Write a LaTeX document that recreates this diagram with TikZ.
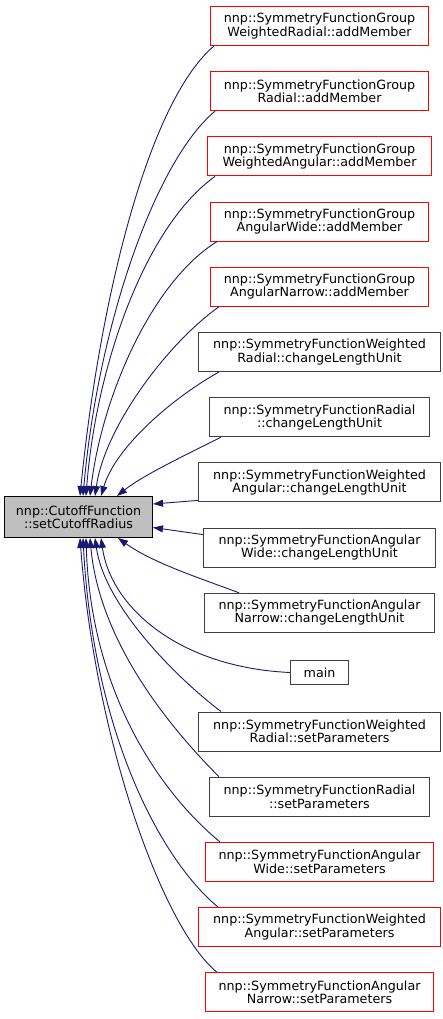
\documentclass[tikz,border=0pt]{standalone}
\usepackage{fontspec}
\setmainfont{DejaVu Sans}
\usepackage{xcolor}
\usepackage{tikz}
\usetikzlibrary{shapes.geometric, arrows.meta, positioning, calc}

\definecolor{edgeblue}{HTML}{191970}
\definecolor{boxgrey}{HTML}{404040}
\definecolor{fillgrey}{HTML}{BFBFBF}
\definecolor{truncred}{HTML}{FF0000}

\begin{document}
\begin{tikzpicture}[x=1pt, y=-1pt, node distance=25.2pt,
    fnbox/.style={rectangle, draw=boxgrey, fill=white, line width=1pt, align=center, minimum height=39pt, minimum width=#1, inner xsep=10pt, inner ysep=2pt, font=\fontsize{12.7}{13.3}\selectfont},
    fnbox/.default=20pt,
    trunc/.style={fnbox=#1, draw=truncred},
    trunc/.default=20pt,
    current/.style={fnbox=148pt, fill=fillgrey, draw=black, minimum height=41pt},
    call/.style={draw=edgeblue, line width=0.9pt, -{Triangle[length=10pt, width=7pt]}}
]
    \useasboundingbox (0,0) rectangle (443,1019);

    \node [current] (cutoff) at (78.5,517) {nnp::CutoffFunction\\::setCutoffRadius};

    \node [trunc=218pt] (wradadd) at (319.5,26) {nnp::SymmetryFunctionGroup\\WeightedRadial::addMember};
    \node [trunc=218pt, below=of wradadd] (radadd) {nnp::SymmetryFunctionGroup\\Radial::addMember};
    \node [trunc=224pt, below=of radadd] (wangadd) {nnp::SymmetryFunctionGroup\\WeightedAngular::addMember};
    \node [trunc=218pt, below=of wangadd] (wideadd) {nnp::SymmetryFunctionGroup\\AngularWide::addMember};
    \node [trunc=218pt, below=of wideadd] (narrowadd) {nnp::SymmetryFunctionGroup\\AngularNarrow::addMember};
    \node [fnbox=242pt, below=of narrowadd] (wradlen) {nnp::SymmetryFunctionWeighted\\Radial::changeLengthUnit};
    \node [fnbox=220pt, below=of wradlen] (radlen) {nnp::SymmetryFunctionRadial\\::changeLengthUnit};
    \node [fnbox=242pt, below=of radlen] (wanglen) {nnp::SymmetryFunctionWeighted\\Angular::changeLengthUnit};
    \node [fnbox=232pt, below=of wanglen] (widelen) {nnp::SymmetryFunctionAngular\\Wide::changeLengthUnit};
    \node [fnbox=230pt, below=of widelen] (narrowlen) {nnp::SymmetryFunctionAngular\\Narrow::changeLengthUnit};
    \node [fnbox=58pt, below=27.2pt of narrowlen, minimum height=24pt] (mainfn) {main};
    \node [fnbox=242pt, below=26.5pt of mainfn] (wradpar) {nnp::SymmetryFunctionWeighted\\Radial::setParameters};
    \node [fnbox=220pt, below=of wradpar] (radpar) {nnp::SymmetryFunctionRadial\\::setParameters};
    \node [trunc=228pt, below=of radpar] (widepar) {nnp::SymmetryFunctionAngular\\Wide::setParameters};
    \node [trunc=242pt, below=of widepar] (wangpar) {nnp::SymmetryFunctionWeighted\\Angular::setParameters};
    \node [trunc=228pt, below=of wangpar] (narrowpar) {nnp::SymmetryFunctionAngular\\Narrow::setParameters};

    % callers above
    \path [call] ([xshift=4pt]wradadd.south west) .. controls +(-65,55) and +(20,-200) .. ([xshift=76pt]cutoff.north west);
    \path [call] ([xshift=5pt]radadd.south west) .. controls +(-60,50) and +(15,-170) .. ([xshift=79pt]cutoff.north west);
    \path [call] ([xshift=8pt]wangadd.south west) .. controls +(-70,50) and +(10,-130) .. ([xshift=82pt]cutoff.north west);
    \path [call] ([xshift=7pt]wideadd.south west) .. controls +(-65,40) and +(12,-100) .. ([xshift=86pt]cutoff.north west);
    \path [call] ([xshift=9pt]narrowadd.south west) .. controls +(-50,35) and +(10,-70) .. ([xshift=91pt]cutoff.north west);
    \path [call] ([xshift=21pt]wradlen.south west) .. controls +(-45,25) and +(15,-50) .. ([xshift=97pt]cutoff.north west);
    \path [call] ([xshift=12pt]radlen.south west) .. controls +(-40,20) and +(25,-20) .. ([xshift=113pt]cutoff.north west);
    \path [call] ([yshift=2pt]wanglen.south west) -- ([yshift=13pt]cutoff.east);
    \path [call] ([yshift=-7pt]widelen.north west) -- ([yshift=-10.5pt]cutoff.east);
    % callers below
    \path [call] ([xshift=35pt]narrowlen.north west) .. controls +(-40,-15) and +(35,25) .. ([xshift=114pt]cutoff.south west);
    \path [call] (mainfn.west) .. controls +(-110,-5) and +(10,70) .. ([xshift=97pt]cutoff.south west);
    \path [call] ([xshift=23pt]wradpar.north west) .. controls +(-40,-30) and +(10,70) .. ([xshift=91pt]cutoff.south west);
    \path [call] ([xshift=10pt]radpar.north west) .. controls +(-40,-40) and +(10,110) .. ([xshift=86pt]cutoff.south west);
    \path [call] ([xshift=15pt]widepar.north west) .. controls +(-55,-45) and +(5,160) .. ([xshift=82pt]cutoff.south west);
    \path [call] ([xshift=20pt]wangpar.north west) .. controls +(-60,-50) and +(10,190) .. ([xshift=79pt]cutoff.south west);
    \path [call] ([xshift=12pt]narrowpar.north west) .. controls +(-55,-45) and +(15,200) .. ([xshift=76pt]cutoff.south west);
\end{tikzpicture}
\end{document}
